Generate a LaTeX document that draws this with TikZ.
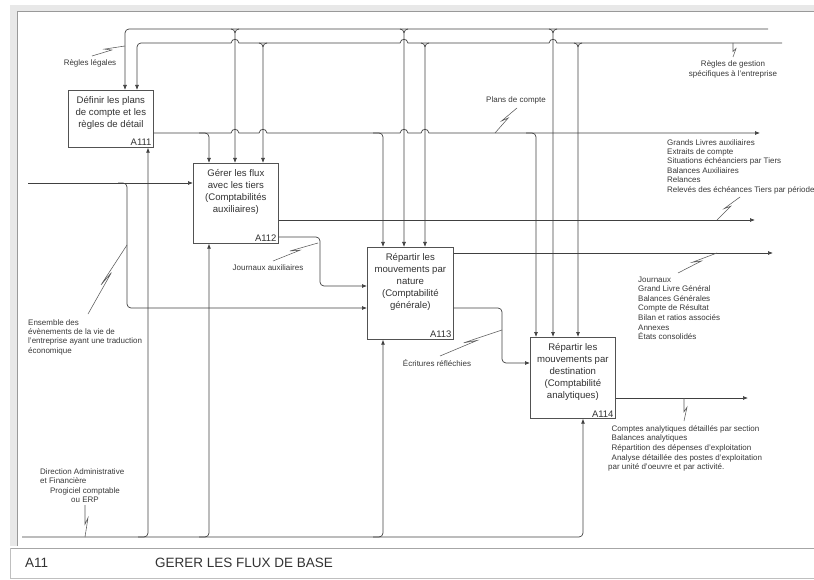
\documentclass[tikz,border=0pt]{standalone}
\usepackage{fontspec}
\setmainfont{Liberation Sans}
\usetikzlibrary{arrows.meta,calc}
% IDEF0 style squiggle joining a label to its arrow
\newcommand\idefsquig[2]{\draw[squig] (#1) -- ($(#1)!0.6!(#2)$) -- ($(#1)!0.4!(#2)!3pt!90:(#2)$) -- (#2);}
\tikzset{
  line/.style={draw=black!75, line width=0.7pt},
  tip/.style={-{Latex[length=5pt,width=4pt]}},
  tipin/.style={{Latex[length=5pt,width=4pt]}-},
  fnbox/.style={draw=black!68, line width=0.7pt, fill=white, inner sep=0pt, anchor=north west},
  boxtxt/.style={font=\fontsize{9.6}{12}\selectfont, align=center, inner sep=0pt, anchor=north, text=black!80},
  boxnum/.style={font=\fontsize{9.5}{11}\selectfont, inner sep=0pt, anchor=south east, text=black!80},
  lbl/.style={font=\fontsize{8}{9.4}\selectfont, inner sep=0pt, align=left, text=black!78},
  ttl/.style={font=\fontsize{13.5}{15}\selectfont, inner sep=0pt, anchor=west, text=black!80},
  squig/.style={draw=black!65, line width=0.55pt},
  hj/.style args={#1:#2}{insert path={-- (#1-4,#2) .. controls +(1,-5) and +(-1,-5) .. (#1+4,#2)}},
}
\begin{document}
\begin{tikzpicture}[x=1pt,y=-1pt]
\useasboundingbox (0,0) rectangle (814,580);

% sheet frame
\fill[black!9] (10,5) rectangle (814,11);
\fill[black!9] (10,11) rectangle (17,546);
\draw[black!40,line width=0.8pt] (17,546) -- (17,11) -- (814,11);

% title block
\draw[black!35,line width=1pt] (10,548) -- (814,548);
\draw[black!25,line width=0.8pt] (10,548) -- (10,578) -- (814,578);
\node[ttl] (num) at (25,563) {A11};
\node[ttl] (title) at (155,563) {GERER LES FLUX DE BASE};

% activity boxes
\node[fnbox, minimum width=85pt, minimum height=57pt] (a111) at (68,90) {};
\node[fnbox, minimum width=85pt, minimum height=80pt] (a112) at (193,163) {};
\node[fnbox, minimum width=86pt, minimum height=92pt] (a113) at (367,247) {};
\node[fnbox, minimum width=85pt, minimum height=81pt] (a114) at (530,337) {};

\node[boxtxt] (a111t) at ([yshift=-5pt]a111.north) {\strut Définir les plans\\de compte et les\\règles de détail};
\node[boxtxt] (a112t) at ([yshift=-5pt]a112.north) {\strut Gérer les flux\\avec les tiers\\(Comptabilités\\auxiliaires)};
\node[boxtxt] (a113t) at ([yshift=-5pt]a113.north) {\strut Répartir les\\mouvements par\\nature\\(Comptabilité\\générale)};
\node[boxtxt] (a114t) at ([yshift=-5pt]a114.north) {\strut Répartir les\\mouvements par\\destination\\(Comptabilité\\analytiques)};

\node[boxnum] (a111n) at ([xshift=-2pt,yshift=1.5pt]a111.south east) {A111};
\node[boxnum] (a112n) at ([xshift=-2pt,yshift=1.5pt]a112.south east) {A112};
\node[boxnum] (a113n) at ([xshift=-2pt,yshift=1.5pt]a113.south east) {A113};
\node[boxnum] (a114n) at ([xshift=-2pt,yshift=1.5pt]a114.south east) {A114};

% free ends of the boundary arrows
\coordinate (c1end) at (768,29);
\coordinate (c2end) at (782,43);
\coordinate (o1end) at (760,133);
\coordinate (o2end) at (755,220);
\coordinate (o3end) at (773,253);
\coordinate (o4end) at (748,398);
\coordinate (inL) at (28,183);
\coordinate (mechL) at (22,537);

% controls: legal rules
\draw[line,tipin] (a111.north -| 125,0) [rounded corners=4pt] |- (c1end);
\foreach \x/\b in {235/a112,404/a113,553/a114}{
  \draw[line] (\x-4,29) to[out=0,in=90] (\x,33);
  \draw[line,tip] (\x+4,29) to[out=180,in=90] (\x,33) -- (\b.north -| \x,0);
}

% controls: company specific rules
\draw[line,tipin] (a111.north -| 137,0) [rounded corners=4pt] |- (190,43) [sharp corners]
  [hj=235:43] [hj=404:43] [hj=553:43] -- (c2end);
\foreach \x/\b in {263/a112,425/a113,578/a114}{
  \draw[line] (\x-4,43) to[out=0,in=90] (\x,47);
  \draw[line,tip] (\x+4,43) to[out=180,in=90] (\x,47) -- (\b.north -| \x,0);
}

% A111 output: chart of accounts
\draw[line,tip] (a111.east |- 0,133) [hj=235:133] [hj=263:133] [hj=404:133] [hj=425:133] -- (o1end);
\foreach \x/\b in {209/a112,383/a113,536/a114}
  \draw[line,tip,rounded corners=4pt] (\x-10,133) -| (\b.north -| \x,0);

% input events
\draw[line,tip] (inL) -- (a112.west |- 0,183);
\draw[line,tip,rounded corners=4pt] (118,183) -| (127,308) -- (a113.west |- 0,308);

% A112 outputs
\draw[line,tip] (a112.east |- 0,220) -- (o2end);
\draw[line,tip,rounded corners=4pt] (a112.east |- 0,237) -| (320,286) -- (a113.west |- 0,286);

% A113 outputs
\draw[line,tip] (a113.east |- 0,253) -- (o3end);
\draw[line,tip,rounded corners=4pt] (a113.east |- 0,308) -| (502,363) -- (a114.west |- 0,363);

% A114 output
\draw[line,tip] (a114.east |- 0,398) -- (o4end);

% mechanisms
\draw[line,tip,rounded corners=4pt] (mechL) -| (a114.south -| 583,0);
\foreach \x/\b in {148/a111,209/a112,383/a113}
  \draw[line,tip,rounded corners=4pt] (\x-10,537) -| (\b.south -| \x,0);

% arrow labels
\node[lbl] (lrl) at (90,63) {Règles légales};
\idefsquig{92,56}{125,46}

\node[lbl, align=center, anchor=north, font=\fontsize{8}{10.5}\selectfont] (lrg) at (733,58.9) {\strut Règles de gestion\\spécifiques à l'entreprise};
\idefsquig{733,43}{733,57}

\node[lbl] (lpc) at (516,100) {Plans de compte};
\idefsquig{495,133}{517,108}

\node[lbl, anchor=north west] (lgl) at (667,138.4) {\strut Grands Livres auxiliaires\\Extraits de compte\\Situations échéanciers par Tiers\\Balances Auxiliaires\\Relances\\Relevés des échéances Tiers par période};
\idefsquig{717,220}{740,197}

\node[lbl, anchor=north west, font=\fontsize{8}{9.6}\selectfont] (ljx) at (638,275.2) {\strut Journaux\\Grand Livre Général\\Balances Générales\\Compte de Résultat\\Bilan et ratios associés\\Annexes\\États consolidés};
\idefsquig{678,273}{717,253}

\node[lbl, anchor=north west, font=\fontsize{8}{9.7}\selectfont] (lca) at (608,424.1) {\strut\hspace*{3.5pt}Comptes analytiques détaillés par section\\\hspace*{3.5pt}Balances analytiques\\\hspace*{3.5pt}Répartition des dépenses d'exploitation\\\hspace*{3.5pt}Analyse détaillée des postes d'exploitation\\par unité d'oeuvre et par activité.};
\idefsquig{684,398}{684,421}

\node[lbl] (ler) at (437,363) {Écritures réfléchies};
\idefsquig{440,356}{502,330}

\node[lbl] (lja) at (268,268) {Journaux auxiliaires};
\idefsquig{273,261}{318,243}

\node[lbl, anchor=north west] (lev) at (28,318.4) {\strut Ensemble des\\évènements de la vie de\\l'entreprise ayant une traduction\\économique};
\idefsquig{88,314}{127,245}

\node[lbl, anchor=north west] (ldaf) at (40,467.4) {\strut Direction Administrative\\et Financière};
\node[lbl, anchor=north, align=center] (lerp) at (85,486.4) {\strut Progiciel comptable\\ou ERP};
\idefsquig{85,505}{85,537}

\end{tikzpicture}
\end{document}
